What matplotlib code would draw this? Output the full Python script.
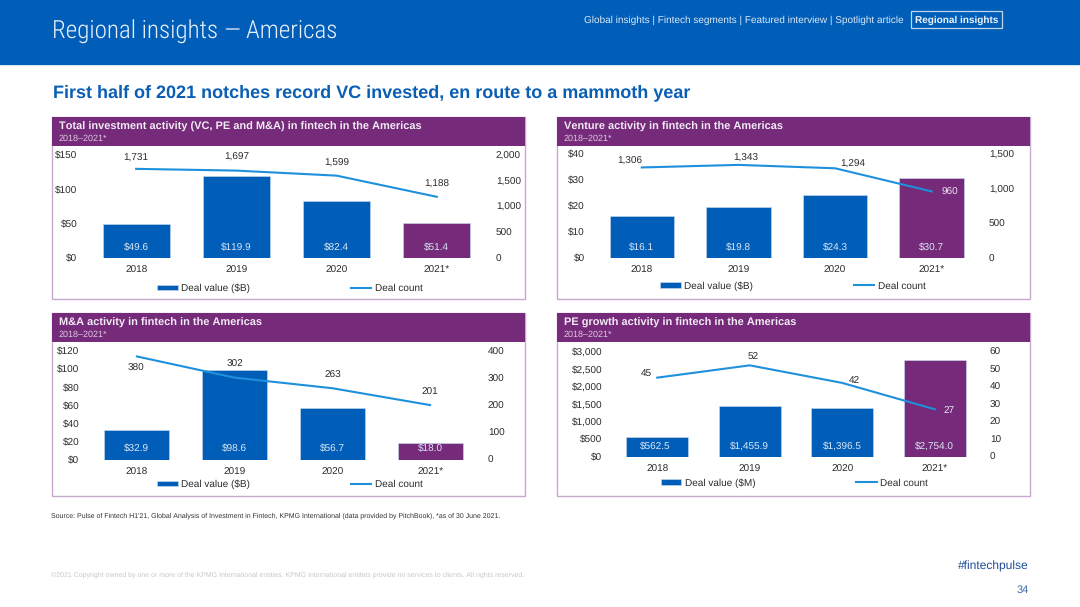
import matplotlib
matplotlib.use("Agg")
import matplotlib.pyplot as plt
from matplotlib.patches import Rectangle

plt.rcParams['font.family'] = ['Liberation Sans', 'DejaVu Sans']
plt.rcParams['text.hinting'] = 'no_hinting'
plt.rcParams['text.hinting_factor'] = 1

W, H = 1080, 607
BLUE = '#005EB8'
PURPLE = '#752A7A'
LINE = '#1E90DC'
BORDER = '#C7A8CF'
DARK = '#2B2B2B'

years = ['2018', '2019', '2020', '2021*']

total_value = [49.6, 119.9, 82.4, 51.4]
total_count = [1731, 1697, 1599, 1188]
total_value_ticks = [0, 50, 100, 150]
total_count_ticks = [0, 500, 1000, 1500, 2000]

venture_value = [16.1, 19.8, 24.3, 30.7]
venture_count = [1306, 1343, 1294, 960]
venture_value_ticks = [0, 10, 20, 30, 40]
venture_count_ticks = [0, 500, 1000, 1500]

mna_value = [32.9, 98.6, 56.7, 18.0]
mna_count = [380, 302, 263, 201]
mna_value_ticks = [0, 20, 40, 60, 80, 100, 120]
mna_count_ticks = [0, 100, 200, 300, 400]

pe_value = [562.5, 1455.9, 1396.5, 2754.0]
pe_count = [45, 52, 42, 27]
pe_value_ticks = [0, 500, 1000, 1500, 2000, 2500, 3000]
pe_count_ticks = [0, 10, 20, 30, 40, 50, 60]

fig = plt.figure(figsize=(W / 100, H / 100), dpi=100, facecolor='white')
FS = 7.4


def ftext(x, y, s, **kw):
    kw.setdefault('va', 'center')
    return fig.text(x / W, 1 - y / H, s, **kw)


def frect(x0, y0, x1, y1, **kw):
    r = Rectangle((x0 / W, 1 - y1 / H), (x1 - x0) / W, (y1 - y0) / H,
                  transform=fig.transFigure, **kw)
    fig.add_artist(r)


def panel(box, plot, title, value, count, vticks, cticks, vlabel, fmt,
          line_off, bar_off, legend_xy, white_last):
    bx0, by0, bhead, bx1, by1 = box
    frect(bx0, by0, bx1, by1, facecolor='white', edgecolor=BORDER, lw=1.0, zorder=0)
    frect(bx0, by0, bx1, bhead, facecolor=PURPLE, edgecolor='none', zorder=1)
    ftext(bx0 + 7, by0 + 10, title, color='#F2EAF4', fontsize=8.15, fontweight='bold', zorder=2)
    ftext(bx0 + 7, by0 + 21.5, '2018–2021*', color='#DCCBE0', fontsize=6.5, zorder=2)

    x0, y_top, x1, y_bot = plot
    ax = fig.add_axes([x0 / W, 1 - y_bot / H, (x1 - x0) / W, (y_bot - y_top) / H])
    ax.patch.set_alpha(0)
    xs = list(range(len(years)))
    colors = [BLUE] * 3 + [PURPLE]
    bars = ax.bar(xs, value, width=0.667, color=colors, edgecolor='#C9DDF0', linewidth=0.4, zorder=2)
    ax.set_xlim(-0.5, 3.5)
    ax.set_ylim(vticks[0], vticks[-1])
    ax.set_xticks(xs, years)
    ax.set_yticks(vticks, [f'${v:,}' for v in vticks])
    ax.tick_params(length=0, labelsize=FS, labelcolor=DARK)
    ax.tick_params(axis='x', pad=5.8)
    ax.tick_params(axis='y', pad=6.2)
    for s in ax.spines.values():
        s.set_visible(False)

    ax2 = ax.twinx()
    ax2.patch.set_alpha(0)
    line, = ax2.plot(xs, count, color=LINE, lw=1.5, zorder=3)
    ax2.set_ylim(cticks[0], cticks[-1])
    ax2.set_yticks(cticks, [f'{v:,}' for v in cticks])
    ax2.tick_params(length=0, labelsize=FS, labelcolor=DARK, pad=6.4)
    for s in ax2.spines.values():
        s.set_visible(False)

    for i, x in enumerate(xs):
        ax2.annotate(fmt.format(value[i]), (x, 0), xytext=(bar_off[i][0], bar_off[i][1]),
                     textcoords='offset pixels', ha='center', va='center',
                     fontsize=FS, color='#DCE8F6', zorder=5)
        col = '#EFE4F1' if (white_last and i == 3) else DARK
        ax2.annotate(f'{count[i]:,}', (x, count[i]), xytext=line_off[i],
                     textcoords='offset pixels', ha='center', va='center',
                     fontsize=FS, color=col, zorder=5)

    ax2.legend([bars, line], [vlabel, 'Deal count'], ncol=2, frameon=False,
               loc='center', bbox_to_anchor=(legend_xy[0] / W, 1 - legend_xy[1] / H),
               bbox_transform=fig.transFigure, fontsize=FS, handlelength=2.0,
               handleheight=0.45, handletextpad=0.35, columnspacing=9.8,
               labelcolor=DARK, borderpad=0, borderaxespad=0)


# banner
frect(0, 0, W, 65, facecolor=BLUE, edgecolor='none')
frect(0, 65, W, 66, facecolor='#D5E3F2', edgecolor='none')
ftext(52, 32, 'Regional insights — Americas', color='#E8F0FA', fontsize=18.3,
      family='Roboto Condensed', fontweight=300)
ftext(584, 20, 'Global insights | Fintech segments | Featured interview | Spotlight article',
      color='#DCE8F6', fontsize=7.3)
ftext(915, 20, 'Regional insights', color='#EEF4FB', fontsize=7.2, fontweight='bold')
frect(910.5, 11, 1002, 28, facecolor='none', edgecolor='#BFD5EE', lw=0.9)

ftext(53, 93, 'First half of 2021 notches record VC invested, en route to a mammoth year',
      color='#0A5FB4', fontsize=13, fontweight='bold')

panel((52, 117, 146, 525, 299), (86, 155, 487, 258),
      'Total investment activity (VC, PE and M&A) in fintech in the Americas',
      total_value, total_count, total_value_ticks, total_count_ticks, 'Deal value ($B)',
      '${:,.1f}', [(0, 11), (0, 13), (0, 13), (0, 13)], [(0, 10)] * 4, (290, 288.7), False)

panel((557, 117, 146, 1029.5, 299), (593.5, 154, 980, 258),
      'Venture activity in fintech in the Americas',
      venture_value, venture_count, venture_value_ticks, venture_count_ticks, 'Deal value ($B)',
      '${:,.1f}', [(-12, 6.5), (7, 6.5), (18, 4.5), (18, -0.5)], [(0, 10)] * 4, (793, 286), True)

panel((52, 313, 342, 525, 496), (88, 351, 479, 459.7),
      'M&A activity in fintech in the Americas',
      mna_value, mna_count, mna_value_ticks, mna_count_ticks, 'Deal value ($B)',
      '${:,.1f}', [(-1, -12.3), (0, 13.3), (0, 13.2), (0, 12.7)], [(0, 10.7)] * 4, (290, 484.7), False)

panel((557, 313, 342, 1029.5, 496), (611, 351.3, 981, 456.7),
      'PE growth activity in fintech in the Americas',
      pe_value, pe_count, pe_value_ticks, pe_count_ticks, 'Deal value ($M)',
      '${:,.1f}', [(-11.4, 4.6), (3.4, 8), (11.7, 2.6), (14.8, -0.7)],
      [(-2, 9.5), (0, 10.5), (0, 10.5), (0, 10.5)], (794.5, 483), True)

ftext(51, 516, "Source: Pulse of Fintech H1'21, Global Analysis of Investment in Fintech, KPMG International (data provided by PitchBook), *as of 30 June 2021.",
      color='#333333', fontsize=4.8)
ftext(51, 575, '©2021 Copyright owned by one or more of the KPMG International entities. KPMG International entities provide no services to clients. All rights reserved.',
      color='#C8C8C8', fontsize=4.8)
ftext(1029, 566, '#fintechpulse', color='#1F4E96', fontsize=8.8, ha='right')
ftext(1029, 590, '34', color='#3A6AA8', fontsize=8, ha='right')

fig.savefig('out.png', dpi=100)
